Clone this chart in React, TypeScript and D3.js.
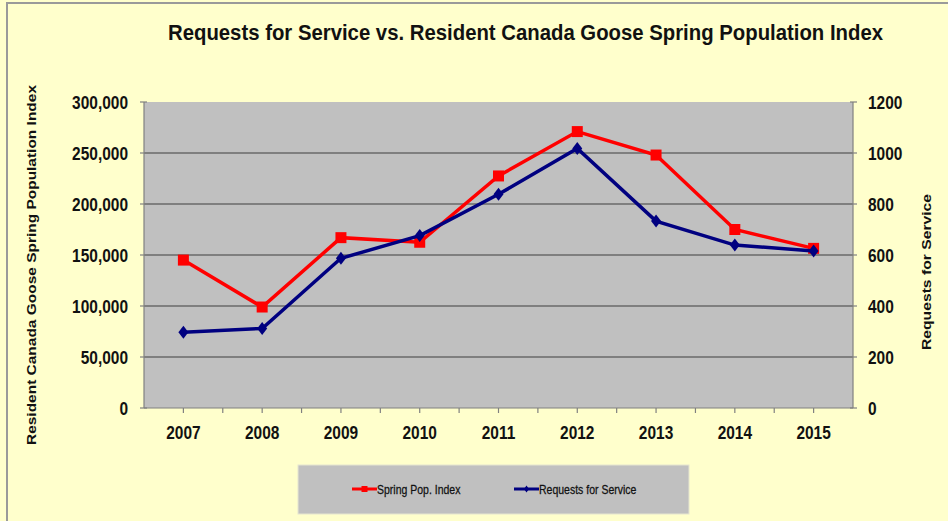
import * as d3 from "d3";
import {useEffect, useRef} from "react";

// data
const years = ["2007", "2008", "2009", "2010", "2011", "2012", "2013", "2014", "2015"];
const springPopIndex = [145000, 99000, 167000, 162500, 227500, 271000, 248000, 175000, 156500];
const requestsForService = [297, 312, 587, 676, 838, 1018, 733, 639, 616];
const leftTicks = [0, 50000, 100000, 150000, 200000, 250000, 300000];
const rightTicks = [0, 200, 400, 600, 800, 1000, 1200];

const title = "Requests for Service vs. Resident Canada Goose Spring Population Index";
const leftTitle = "Resident Canada Goose Spring Population Index";
const rightTitle = "Requests for Service";
const legendNames = ["Spring Pop. Index", "Requests for Service"];

const App = () => {
  const width = 948;
  const height = 521;
  const plot = {left: 144, right: 853, top: 102, bottom: 408};
  const font = "'Liberation Sans', Arial, Helvetica, sans-serif";
  const squeeze = 0.86; // the picture is a bit squashed sideways
  
  const svgRef = useRef<SVGSVGElement>(null!);
  
  useEffect(() => {
    const svg = d3.select(svgRef.current);
    svg.selectAll("*").remove();
    
    const x = d3.scaleBand().domain(years).range([plot.left, plot.right]);
    const cx = (d: string) => (x(d) as number) + x.bandwidth() / 2;
    const yL = d3.scaleLinear().domain([0, 300000]).range([plot.bottom, plot.top]);
    const yR = d3.scaleLinear().domain([0, 1200]).range([plot.bottom, plot.top]);
    
    // background + frame
    svg.append("rect").attr("width", width).attr("height", height).attr("fill", "#FFFFCC");
    svg.append("path").attr("d", `M7,${height} V3 H${width}`)
      .attr("fill", "none").attr("stroke", "#9a9a9a").attr("stroke-width", 2);
    
    // title
    svg.append("text")
      .attr("x", 168).attr("y", 40)
      .attr("textLength", 715).attr("lengthAdjust", "spacingAndGlyphs")
      .attr("font-family", font).attr("font-weight", "bold").attr("font-size", 22)
      .attr("fill", "#111")
      .text(title);
    
    // plot area
    svg.append("rect")
      .attr("x", plot.left).attr("y", plot.top)
      .attr("width", plot.right - plot.left).attr("height", plot.bottom - plot.top)
      .attr("fill", "#C0C0C0");
    
    // gridlines
    svg.selectAll(".grid").data(leftTicks.filter(d => d > 0 && d < 300000)).enter()
      .append("line")
      .attr("x1", plot.left).attr("x2", plot.right)
      .attr("y1", d => yL(d)).attr("y2", d => yL(d))
      .attr("stroke", "#6a6a6a").attr("stroke-width", 1.5);
    
    const axisColor = "#808080";
    // axes lines
    svg.append("line").attr("x1", plot.left).attr("x2", plot.left)
      .attr("y1", plot.top).attr("y2", plot.bottom).attr("stroke", axisColor).attr("stroke-width", 1.2);
    svg.append("line").attr("x1", plot.right).attr("x2", plot.right)
      .attr("y1", plot.top).attr("y2", plot.bottom).attr("stroke", axisColor).attr("stroke-width", 1.2);
    svg.append("line").attr("x1", plot.left).attr("x2", plot.right)
      .attr("y1", plot.bottom).attr("y2", plot.bottom).attr("stroke", axisColor).attr("stroke-width", 1.2);
    
    // left ticks + labels
    svg.selectAll(".ltick").data(leftTicks).enter()
      .append("line")
      .attr("x1", plot.left - 4).attr("x2", plot.left + 3)
      .attr("y1", d => yL(d)).attr("y2", d => yL(d))
      .attr("stroke", axisColor).attr("stroke-width", 1.2);
    svg.selectAll(".llab").data(leftTicks).enter()
      .append("text")
      .attr("transform", d => `translate(128,${yL(d) + 6.5}) scale(${squeeze},1)`)
      .attr("text-anchor", "end")
      .attr("font-family", font).attr("font-weight", "bold").attr("font-size", 18)
      .attr("fill", "#111")
      .text(d => d3.format(",")(d));
    
    // right ticks + labels
    svg.selectAll(".rtick").data(rightTicks).enter()
      .append("line")
      .attr("x1", plot.right - 3).attr("x2", plot.right + 4)
      .attr("y1", d => yR(d)).attr("y2", d => yR(d))
      .attr("stroke", axisColor).attr("stroke-width", 1.2);
    svg.selectAll(".rlab").data(rightTicks).enter()
      .append("text")
      .attr("transform", d => `translate(868,${yR(d) + 6.5}) scale(${squeeze},1)`)
      .attr("font-family", font).attr("font-weight", "bold").attr("font-size", 18)
      .attr("fill", "#111")
      .text(d => d);
    
    // x ticks at centres and band edges
    const xTicks = years.flatMap(d => [x(d) as number, cx(d)]).slice(1);
    svg.selectAll(".xtick").data(xTicks).enter()
      .append("line")
      .attr("x1", d => d).attr("x2", d => d)
      .attr("y1", plot.bottom).attr("y2", plot.bottom + 5)
      .attr("stroke", axisColor).attr("stroke-width", 1.2);
    svg.selectAll(".xlab").data(years).enter()
      .append("text")
      .attr("transform", d => `translate(${cx(d)},439) scale(${squeeze},1)`)
      .attr("text-anchor", "middle")
      .attr("font-family", font).attr("font-weight", "bold").attr("font-size", 18)
      .attr("fill", "#111")
      .text(d => d);
    
    // axis titles
    svg.append("text")
      .attr("transform", `translate(36,265) rotate(-90)`)
      .attr("x", -180)
      .attr("textLength", 360).attr("lengthAdjust", "spacingAndGlyphs")
      .attr("font-family", font).attr("font-weight", "bold").attr("font-size", 13.5)
      .attr("fill", "#111")
      .text(leftTitle);
    svg.append("text")
      .attr("transform", `translate(931,272) rotate(-90)`)
      .attr("x", -78)
      .attr("textLength", 156).attr("lengthAdjust", "spacingAndGlyphs")
      .attr("font-family", font).attr("font-weight", "bold").attr("font-size", 13.5)
      .attr("fill", "#111")
      .text(rightTitle);
    
    // series
    const red = "#FF0000";
    const blue = "#000080";
    const lineL = d3.line<number>().x((_, i) => cx(years[i])).y(d => yL(d));
    const lineR = d3.line<number>().x((_, i) => cx(years[i])).y(d => yR(d));
    const square = "M-5.5,-5.5 h11 v11 h-11 Z";
    const diamond = "M0,-6.5 L5,0 L0,6.5 L-5,0 Z";
    
    svg.append("path").attr("d", lineL(springPopIndex) as string)
      .attr("fill", "none").attr("stroke", red).attr("stroke-width", 3.5);
    svg.selectAll(".sq").data(springPopIndex).enter()
      .append("path")
      .attr("d", square)
      .attr("transform", (d, i) => `translate(${cx(years[i])},${yL(d)})`)
      .attr("fill", red);
    
    svg.append("path").attr("d", lineR(requestsForService) as string)
      .attr("fill", "none").attr("stroke", blue).attr("stroke-width", 3.5);
    svg.selectAll(".dm").data(requestsForService).enter()
      .append("path")
      .attr("d", diamond)
      .attr("transform", (d, i) => `translate(${cx(years[i])},${yR(d)})`)
      .attr("fill", blue);
    
    // legend
    const legend = svg.append("g");
    legend.append("rect")
      .attr("x", 298).attr("y", 465).attr("width", 391).attr("height", 49)
      .attr("fill", "#C0C0C0").attr("stroke", "#e6e6d0").attr("stroke-width", 1);
    const items = [
      {name: legendNames[0], color: red, mark: "M-3,-3 h6 v6 h-6 Z", x: 352},
      {name: legendNames[1], color: blue, mark: "M0,-3.5 L2.5,0 L0,3.5 L-2.5,0 Z", x: 514},
    ];
    const li = legend.selectAll(".li").data(items).enter().append("g")
      .attr("transform", d => `translate(${d.x},489)`);
    li.append("line").attr("x1", 0).attr("x2", 25).attr("y1", 0).attr("y2", 0)
      .attr("stroke", d => d.color).attr("stroke-width", 3);
    li.append("path").attr("d", d => d.mark).attr("transform", "translate(12.5,0)")
      .attr("fill", d => d.color);
    li.append("text")
      .attr("transform", `translate(25,4.5) scale(0.84,1)`)
      .attr("font-family", font).attr("font-size", 12.5)
      .attr("stroke", "#111").attr("stroke-width", 0.25)
      .attr("fill", "#111")
      .text(d => d.name);
  }, []);
  
  return (
    <svg width={width} height={height} ref={svgRef}
         style={{position: "absolute", left: 0, top: 0, display: "block"}}/>
  );
};

export default App;
